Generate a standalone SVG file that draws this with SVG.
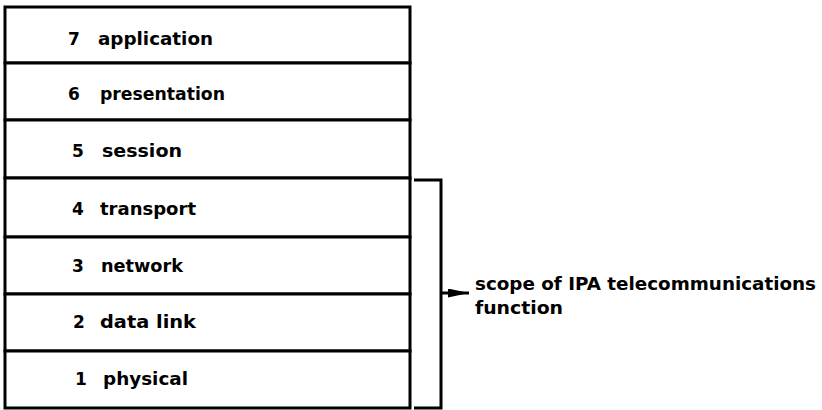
<svg xmlns="http://www.w3.org/2000/svg" width="822" height="410" viewBox="0 0 822 410">
<style>
.row{fill:#fff;stroke:#000;stroke-width:3}
.num{font-family:"DejaVu Sans",sans-serif;font-weight:bold;font-size:17px;fill:#000}
.lbl{font-family:"DejaVu Sans",sans-serif;font-weight:bold;font-size:17px;fill:#000}
.note{font-family:"DejaVu Sans",sans-serif;font-weight:bold;font-size:17px;fill:#000}
.conn{fill:none;stroke:#000;stroke-width:3}
</style>
<defs>
<marker id="ah" viewBox="0 0 14 6" refX="14" refY="3" markerWidth="7" markerHeight="3" markerUnits="strokeWidth" orient="auto">
<path d="M0,0 L14,3 L0,6 Z" fill="#000"/>
</marker>
</defs>
<rect width="822" height="410" fill="#fff"/>
<g id="layer7"><rect class="row" x="5" y="7" width="405" height="56"/><text class="num" x="68" y="45">7</text><text class="lbl" x="98" y="45" textLength="115" lengthAdjust="spacingAndGlyphs">application</text></g>
<g id="layer6"><rect class="row" x="5" y="63" width="405" height="57"/><text class="num" x="68" y="100">6</text><text class="lbl" x="100" y="100" textLength="125" lengthAdjust="spacingAndGlyphs">presentation</text></g>
<g id="layer5"><rect class="row" x="5" y="120" width="405" height="58"/><text class="num" x="72" y="157">5</text><text class="lbl" x="102" y="157" textLength="80" lengthAdjust="spacingAndGlyphs">session</text></g>
<g id="layer4"><rect class="row" x="5" y="178" width="405" height="59"/><text class="num" x="72" y="215">4</text><text class="lbl" x="100" y="215" textLength="96" lengthAdjust="spacingAndGlyphs">transport</text></g>
<g id="layer3"><rect class="row" x="5" y="237" width="405" height="57"/><text class="num" x="72" y="272">3</text><text class="lbl" x="101" y="272" textLength="82" lengthAdjust="spacingAndGlyphs">network</text></g>
<g id="layer2"><rect class="row" x="5" y="294" width="405" height="57"/><text class="num" x="73" y="328">2</text><text class="lbl" x="100" y="328" textLength="96" lengthAdjust="spacingAndGlyphs">data link</text></g>
<g id="layer1"><rect class="row" x="5" y="351" width="405" height="57"/><text class="num" x="75" y="385">1</text><text class="lbl" x="103" y="385" textLength="85" lengthAdjust="spacingAndGlyphs">physical</text></g>
<g id="connectors">
<path class="conn" d="M414,180 H441 V408 H414"/>
<line class="conn" x1="441" y1="293" x2="469" y2="293" marker-end="url(#ah)"/>
</g>
<g id="scope-label">
<text class="note" x="475" y="290" textLength="341" lengthAdjust="spacingAndGlyphs">scope of IPA telecommunications</text>
<text class="note" x="475" y="314" textLength="88" lengthAdjust="spacingAndGlyphs">function</text>
</g>
</svg>
